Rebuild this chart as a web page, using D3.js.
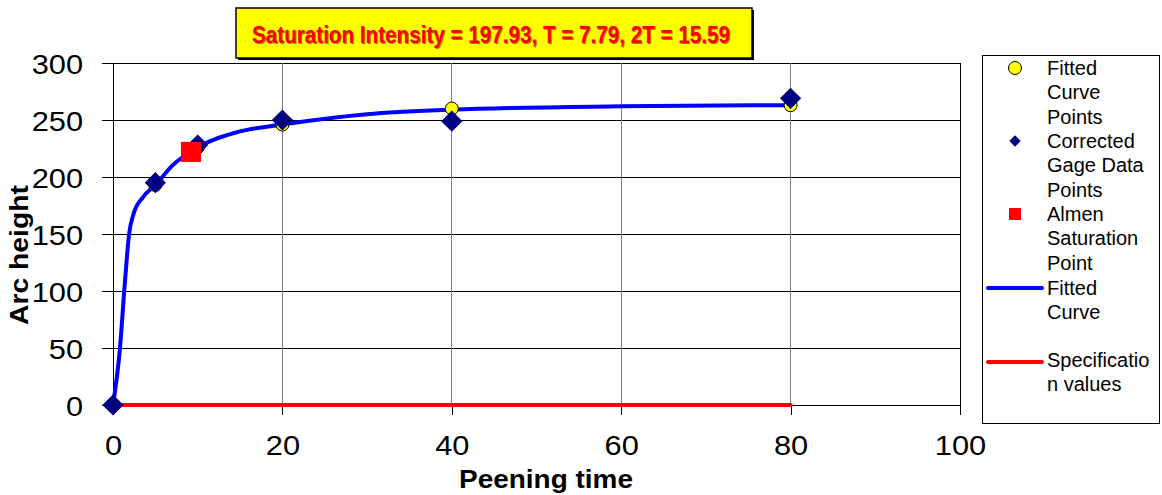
<!DOCTYPE html>
<html><head><meta charset="utf-8">
<script src="https://cdn.jsdelivr.net/npm/d3@7"></script>
<style>html,body{margin:0;padding:0;background:#fff;} svg{display:block;}</style>
</head><body>
<script>
const titleText = "Saturation Intensity = 197.93, T = 7.79, 2T = 15.59";
const xLabel = "Peening time";
const yLabel = "Arc height";
const xTicks = [0, 20, 40, 60, 80, 100];
const yTicks = [0, 50, 100, 150, 200, 250, 300];

const fittedX = [0, 5, 10, 20, 40, 80];
const fittedY = [0, 193, 226, 246, 260, 263];
const gageX = [0, 5, 10, 20, 40, 80];
const gageY = [0, 195, 228, 250, 249, 269];
const almenX = [9.2];
const almenY = [222];
const curveX = [0, 0.8, 1.4, 1.9, 2.4, 3.5, 5, 7, 10, 15, 20, 30, 40, 60, 80];
const curveY = [0, 48, 107, 150, 167, 182, 193, 210, 226, 240, 246, 255, 259, 262, 263];
const specX = [0, 80];
const specY = [0, 0];

const legendLabels = [
  ["Fitted", "Curve", "Points"],
  ["Corrected", "Gage Data", "Points"],
  ["Almen", "Saturation", "Point"],
  ["Fitted", "Curve"],
  ["Specificatio", "n values"]
];

const W = 1162, H = 495;
const svg = d3.select("body").append("svg").attr("width", W).attr("height", H);
const font = "'Liberation Sans', Arial, sans-serif";

const x = d3.scaleLinear().domain([0, 100]).range([113, 960]);
const y = d3.scaleLinear().domain([0, 300]).range([405, 63]);

// gridlines
svg.append("g").selectAll("line").data(yTicks).join("line")
  .attr("x1", x(0)).attr("x2", x(100)).attr("y1", d => y(d)).attr("y2", d => y(d))
  .attr("stroke", "#000").attr("stroke-width", 1).attr("shape-rendering", "crispEdges");
svg.append("g").selectAll("line").data(xTicks).join("line")
  .attr("x1", d => x(d)).attr("x2", d => x(d)).attr("y1", y(0)).attr("y2", y(300))
  .attr("stroke", d => (d === 0 || d === 100) ? "#000" : "#808080").attr("stroke-width", 1).attr("shape-rendering", "crispEdges");

// axes
const yAxis = d3.axisLeft(y).tickValues(yTicks).tickSize(11).tickFormat(d3.format("d"));
const gy = svg.append("g").attr("transform", `translate(${x(0)},0)`).call(yAxis);
const xAxis = d3.axisBottom(x).tickValues(xTicks).tickSize(10).tickFormat(d3.format("d"));
const gx = svg.append("g").attr("transform", `translate(0,${y(0)})`).call(xAxis);
[gx, gy].forEach(g => {
  g.select(".domain").attr("stroke", "#000").attr("shape-rendering", "crispEdges");
  g.selectAll(".tick line").attr("stroke", "#000").attr("shape-rendering", "crispEdges");
  g.selectAll(".tick text").attr("font-family", font).attr("font-size", 28).attr("fill", "#000")
    .attr("transform", "scale(1.1,1)").attr("dy", null);
});
gy.selectAll(".tick text").attr("x", -30 / 1.1).attr("y", 10);
gx.selectAll(".tick text").attr("x", 0).attr("y", 50);

// lines
const line = d3.line().x(d => x(d[0])).y(d => y(d[1]));
svg.append("path").datum(curveX.map((v, i) => [v, curveY[i]]))
  .attr("d", line.curve(d3.curveMonotoneX)).attr("fill", "none").attr("stroke", "#0000ff").attr("stroke-width", 4);
svg.append("path").datum(specX.map((v, i) => [v, specY[i]]))
  .attr("d", d3.line().x(d => x(d[0])).y(d => y(d[1]))).attr("fill", "none").attr("stroke", "#ff0000").attr("stroke-width", 4).attr("stroke-linecap", "round");

// markers
const circ = d3.symbol().type(d3.symbolCircle).size(Math.PI * 6.5 * 6.5);
const diam = d3.symbol().type(d3.symbolSquare).size(15 * 15);
svg.append("g").selectAll("path").data(fittedX.map((v, i) => [v, fittedY[i]])).join("path")
  .attr("d", circ).attr("transform", d => `translate(${x(d[0])},${y(d[1])})`)
  .attr("fill", "#ffff00").attr("stroke", "#000").attr("stroke-width", 1);
svg.append("g").selectAll("path").data(gageX.map((v, i) => [v, gageY[i]])).join("path")
  .attr("d", diam).attr("transform", d => `translate(${x(d[0])},${y(d[1])}) rotate(45)`)
  .attr("fill", "#000080");
svg.append("g").selectAll("rect").data(almenX.map((v, i) => [v, almenY[i]])).join("rect")
  .attr("x", d => x(d[0]) - 10).attr("y", d => y(d[1]) - 10).attr("width", 20).attr("height", 20)
  .attr("fill", "#ff0000");

// axis titles
svg.append("text").attr("x", 546).attr("y", 488).attr("text-anchor", "middle")
  .attr("font-family", font).attr("font-weight", "bold").attr("font-size", 25)
  .attr("textLength", 174).attr("lengthAdjust", "spacingAndGlyphs").text(xLabel);
svg.append("text").attr("transform", "translate(28,255) rotate(-90)").attr("text-anchor", "middle")
  .attr("font-family", font).attr("font-weight", "bold").attr("font-size", 25)
  .attr("textLength", 140).attr("lengthAdjust", "spacingAndGlyphs").text(yLabel);

// title box
svg.append("rect").attr("x", 238).attr("y", 10).attr("width", 516).attr("height", 50).attr("fill", "#000");
svg.append("rect").attr("x", 236).attr("y", 8).attr("width", 516).attr("height", 50)
  .attr("fill", "#ffff00").attr("stroke", "#000").attr("stroke-width", 1.5);
const tt = (dx, dy, col) => svg.append("text").attr("x", 491 + dx).attr("y", 43 + dy).attr("text-anchor", "middle")
  .attr("font-family", "'Liberation Sans Narrow', 'Arial Narrow', 'Liberation Sans', sans-serif")
  .attr("font-weight", "bold").attr("font-size", 24).attr("fill", col)
  .attr("textLength", 478).attr("lengthAdjust", "spacingAndGlyphs").text(titleText);
tt(1, 1, "rgba(80,0,0,0.55)");
tt(0, 0, "#ff0000");

// legend
svg.append("rect").attr("x", 982).attr("y", 55).attr("width", 177).attr("height", 368)
  .attr("fill", "#fff").attr("stroke", "#000").attr("stroke-width", 1).attr("shape-rendering", "crispEdges");
const lh = 24.4;
const startY = [75, 148, 221, 295, 367];
legendLabels.forEach((lines, k) => {
  lines.forEach((t, j) => {
    svg.append("text").attr("x", 1047).attr("y", startY[k] + j * lh)
      .attr("font-family", font).attr("font-size", 20).attr("fill", "#000").text(t);
  });
});
const mx = 1015;
svg.append("path").attr("d", circ).attr("transform", `translate(${mx},${startY[0] - 7})`)
  .attr("fill", "#ffff00").attr("stroke", "#000");
svg.append("path").attr("d", d3.symbol().type(d3.symbolSquare).size(8 * 8))
  .attr("transform", `translate(${mx},${startY[1] - 7}) rotate(45)`).attr("fill", "#000080");
svg.append("rect").attr("x", mx - 6).attr("y", startY[2] - 13).attr("width", 12).attr("height", 12).attr("fill", "#ff0000");
svg.append("line").attr("x1", 988).attr("x2", 1042).attr("y1", startY[3] - 7).attr("y2", startY[3] - 7)
  .attr("stroke", "#0000ff").attr("stroke-width", 4).attr("stroke-linecap", "round");
svg.append("line").attr("x1", 988).attr("x2", 1042).attr("y1", startY[4] - 5).attr("y2", startY[4] - 5)
  .attr("stroke", "#ff0000").attr("stroke-width", 4).attr("stroke-linecap", "round");
</script>
</body></html>
